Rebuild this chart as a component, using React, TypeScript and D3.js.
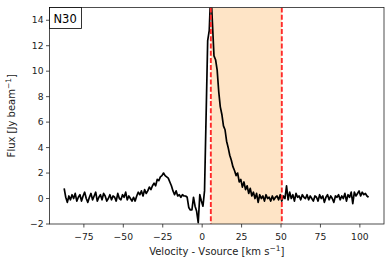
import * as d3 from "d3";

// spectrum: channel grid start/width (km/s) and flux per channel (Jy/beam)
const VEL_START = -87.5;
const CHAN_WIDTH = 1.0;
const flux = [
  0.8, 0.1, -0.3, 0.2, -0.1, 0.3, 0.0, 0.4, -0.2, 0.1,
  0.3, -0.2, 0.2, 0.5, 0.0, -0.3, 0.1, 0.4, -0.1, 0.2,
  0.5, -0.2, 0.1, 0.3, -0.1, 0.4, 0.2, -0.2, 0.0, 0.3,
  -0.1, 0.2, 0.1, -0.2, 0.4, 0.0, -0.1, 0.3, 0.1, 0.5,
  -0.1, 0.2, 0.0, -0.2, 0.1, -0.2, 0.2, 0.5, 0.3, 0.6,
  0.2, 0.7, 0.4, 0.6, 0.9, 0.7, 1.0, 1.2, 1.0, 1.5,
  1.4, 1.7, 1.8, 2.0, 1.8, 1.7, 1.6, 1.3, 1.0, 0.6,
  0.3, 0.6, 0.2, 0.3, 0.1, 0.3, 0.2, 0.2, 0.1, -0.7,
  -0.9, -0.9, 0.1, -0.6, -1.0, -1.9, 0.3, -0.2, -0.6, 0.6,
  6.5, 12.4, 13.2, 16.5, 13.8, 11.2, 10.9, 10.1, 8.4, 7.2,
  6.6, 5.7, 5.4, 4.5, 4.0, 3.4, 3.0, 2.5, 2.2, 1.8,
  2.0, 1.3, 1.5, 0.9, 1.3, 0.7, 1.0, 0.4, 0.8, 0.2,
  0.5, 0.0, 0.4, -0.3, 0.3, 0.0, 0.2, -0.2, 0.3, 0.0,
  0.1, -0.2, 0.2, -0.1, 0.1, 0.2, -0.1, 0.3, -0.2, 0.2,
  0.0, 1.0, -0.1, 0.5, 0.0, 0.3, -0.2, 0.4, 0.1, 0.2,
  -0.1, 0.3, 0.1, 0.0, 0.3, -0.1, 0.2, 0.0, -0.2, 0.2,
  0.1, -0.2, 0.3, 0.0, 0.2, -0.3, 0.1, 0.3, -0.1, 0.2,
  0.0, -0.3, 0.2, 0.1, 0.3, -0.1, 0.2, 0.0, 0.4, -0.2,
  0.3, 0.1, 0.5, -0.4, 0.5, 0.2, 0.4, 0.6, 0.2, 0.5,
  0.3, 0.4, 0.2, 0.1,
];

const window_ = [5.5, 50.5]; // integration window (km/s)
const xTicks = [-75, -50, -25, 0, 25, 50, 75, 100];
const yTicks = [-2, 0, 2, 4, 6, 8, 10, 12, 14];
const label = "N30";

const W = 390;
const H = 268;
const m = { top: 7.5, right: 6, bottom: 44, left: 49.5 };
const font = "DejaVu Sans, sans-serif";

const fmt = (d: number) => (d < 0 ? "\u2212" + Math.abs(d) : String(d));

export default function App() {
  const innerW = W - m.left - m.right;
  const innerH = H - m.top - m.bottom;

  const x = d3.scaleLinear().domain([-96.8, 115.3]).range([0, innerW]);
  const y = d3.scaleLinear().domain([-2, 15]).range([innerH, 0]);

  const pts: [number, number][] = flux.map((f, i) => [VEL_START + i * CHAN_WIDTH, f]);
  const line = d3
    .line<[number, number]>()
    .x((d) => x(d[0]))
    .y((d) => y(d[1]));

  return (
    <svg
      width={W}
      height={H}
      style={{ position: "absolute", left: 0, top: 0, background: "#fff" }}
      fontFamily={font}
    >
      <defs>
        <clipPath id="plot">
          <rect x={0} y={0} width={innerW} height={innerH} />
        </clipPath>
      </defs>
      <g transform={`translate(${m.left},${m.top})`}>
        <g clipPath="url(#plot)">
          <rect
            x={x(window_[0])}
            y={0}
            width={x(window_[1]) - x(window_[0])}
            height={innerH}
            fill="#fee4c6"
          />
          <path d={line(pts) ?? ""} fill="none" stroke="#000" strokeWidth={1.7} strokeLinejoin="round" />
          {window_.map((v) => (
            <line
              key={v}
              x1={x(v)}
              x2={x(v)}
              y1={0}
              y2={innerH}
              stroke="#ff2a2a"
              strokeWidth={1.9}
              strokeDasharray="5,2.2"
            />
          ))}
        </g>

        {/* frame */}
        <rect x={0} y={0} width={innerW} height={innerH} fill="none" stroke="#222" strokeWidth={0.8} />

        {/* x axis */}
        {xTicks.map((t) => (
          <g key={t} transform={`translate(${x(t)},${innerH})`}>
            <line y2={3.5} stroke="#222" strokeWidth={0.8} />
            <text y={16} textAnchor="middle" fontSize={9.2} fill="#222">
              {fmt(t)}
            </text>
          </g>
        ))}
        <text x={innerW / 2} y={innerH + 31} textAnchor="middle" fontSize={10} fill="#222">
          Velocity - Vsource [km s
          <tspan dy={-4} fontSize={7.5}>
            {"\u22121"}
          </tspan>
          <tspan dy={4}>]</tspan>
        </text>

        {/* y axis */}
        {yTicks.map((t) => (
          <g key={t} transform={`translate(0,${y(t)})`}>
            <line x2={-3.5} stroke="#222" strokeWidth={0.8} />
            <text x={-6} dy="0.35em" textAnchor="end" fontSize={9.2} fill="#222">
              {fmt(t)}
            </text>
          </g>
        ))}
        <text
          transform={`translate(${-35},${innerH / 2}) rotate(-90)`}
          textAnchor="middle"
          fontSize={10}
          fill="#222"
        >
          Flux [Jy beam
          <tspan dy={-4} fontSize={7.5}>
            {"\u22121"}
          </tspan>
          <tspan dy={4}>]</tspan>
        </text>

        {/* panel label */}
        <rect x={0} y={0} width={32} height={21} fill="#fff" stroke="#000" strokeWidth={0.8} />
        <text x={4} y={15} fontSize={11.5} fill="#000">
          {label}
        </text>
      </g>
    </svg>
  );
}
